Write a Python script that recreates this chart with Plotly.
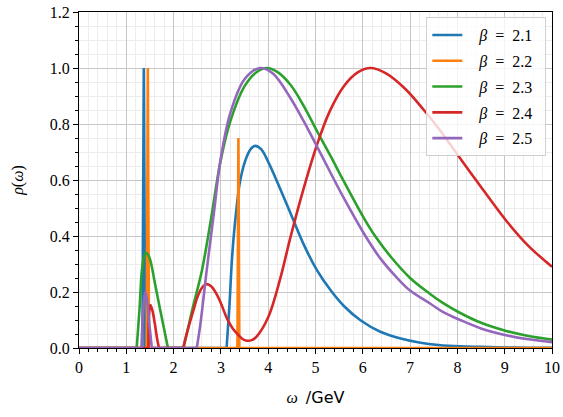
import plotly.graph_objects as go

# ---------------- data ----------------
betas = ["2.1", "2.2", "2.3", "2.4", "2.5"]
colors = ["#1f77b4", "#ff7f0e", "#2ca02c", "#d62728", "#9467bd"]

# beta = 2.1
b21_lin_x = [0.0, 1.34, 1.37, 1.40, 3.12]
b21_lin_y = [0.0, 0.0, 1.0, 0.0, 0.0]
b21_main_x = [3.12, 3.18, 3.235, 3.30, 3.41, 3.55, 3.66, 3.73, 3.85, 4.0, 4.25, 4.5,
              4.75, 5.03, 5.32, 5.6, 5.95, 6.37, 6.8, 7.22, 7.6, 8.06, 8.5, 9.0, 9.5, 10.0]
b21_main_y = [0.0, 0.15, 0.32, 0.45, 0.60, 0.685, 0.716, 0.722, 0.71, 0.665, 0.57, 0.47,
              0.37, 0.278, 0.206, 0.15, 0.099, 0.058, 0.034, 0.019, 0.011, 0.006, 0.004,
              0.002, 0.001, 0.0005]

# beta = 2.2
b22_lin_x = [0.0, 1.43, 1.455, 1.48, 3.35, 3.37, 3.39, 10.0]
b22_lin_y = [0.0, 0.0, 1.0, 0.0, 0.0, 0.75, 0.0, 0.0]

# beta = 2.3
b23_zero_x = [0.0, 1.22]
b23_bump_x = [1.22, 1.28, 1.33, 1.38, 1.415, 1.46, 1.507, 1.6, 1.7, 1.8, 1.88]
b23_bump_y = [0.0, 0.14, 0.278, 0.33, 0.34, 0.333, 0.314, 0.236, 0.15, 0.067, 0.0]
b23_gap_x = [1.88, 2.21]
b23_main_x = [2.21, 2.4, 2.6, 2.8, 2.99, 3.2, 3.5, 3.75, 3.97, 4.2, 4.47, 4.75, 5.03,
              5.32, 5.6, 6.02, 6.26, 6.6, 7.0, 7.43, 7.7, 8.06, 8.5, 9.05, 9.5, 10.0]
b23_main_y = [0.0, 0.14, 0.278, 0.47, 0.665, 0.81, 0.935, 0.985, 1.0, 0.985, 0.94, 0.865,
              0.775, 0.685, 0.595, 0.465, 0.40, 0.324, 0.25, 0.192, 0.16, 0.125, 0.09,
              0.06, 0.043, 0.030]

# beta = 2.4
b24_zero_x = [0.0, 1.47]
b24_bump_x = [1.47, 1.485, 1.51, 1.55, 1.60, 1.65, 1.69]
b24_bump_y = [0.0, 0.13, 0.153, 0.135, 0.09, 0.035, 0.0]
b24_gap_x = [1.69, 2.20]
b24_main_x = [2.20, 2.30, 2.42, 2.50, 2.60, 2.70, 2.80, 2.90, 3.0, 3.13, 3.25, 3.35,
              3.45, 3.55, 3.65, 3.75, 4.0, 4.25, 4.47, 4.75, 5.03, 5.3, 5.6, 5.9, 6.16,
              6.5, 6.9, 7.29, 7.6, 7.92, 8.5, 9.05, 9.5, 10.0]
b24_main_y = [0.0, 0.065, 0.135, 0.18, 0.215, 0.228, 0.22, 0.195, 0.16, 0.105, 0.07,
              0.05, 0.033, 0.026, 0.028, 0.04, 0.11, 0.245, 0.395, 0.57, 0.725, 0.845,
              0.935, 0.985, 1.0, 0.98, 0.925, 0.85, 0.785, 0.71, 0.575, 0.451, 0.365, 0.29]

# beta = 2.5
b25_zero_x = [0.0, 1.32]
b25_bump_x = [1.32, 1.36, 1.40, 1.44, 1.49, 1.54]
b25_bump_y = [0.0, 0.14, 0.20, 0.17, 0.08, 0.0]
b25_gap_x = [1.54, 2.49]
b25_main_x = [2.49, 2.57, 2.70, 2.85, 2.99, 3.2, 3.5, 3.83, 4.1, 4.47, 4.75, 5.03, 5.32,
              5.6, 6.02, 6.37, 6.7, 7.0, 7.43, 7.7, 8.06, 8.5, 9.05, 9.5, 10.0]
b25_main_y = [0.0, 0.09, 0.278, 0.48, 0.67, 0.84, 0.96, 1.0, 0.98, 0.893, 0.81, 0.72,
              0.625, 0.535, 0.41, 0.32, 0.255, 0.205, 0.158, 0.128, 0.1, 0.07, 0.045,
              0.031, 0.021]

x_ticks = list(range(0, 11))
y_ticks = [0.0, 0.2, 0.4, 0.6, 0.8, 1.0, 1.2]

series = [
    [(b21_lin_x, b21_lin_y, "linear"), (b21_main_x, b21_main_y, "spline")],
    [(b22_lin_x, b22_lin_y, "linear")],
    [(b23_zero_x, [0.0] * len(b23_zero_x), "linear"), (b23_bump_x, b23_bump_y, "spline"),
     (b23_gap_x, [0.0] * len(b23_gap_x), "linear"), (b23_main_x, b23_main_y, "spline")],
    [(b24_zero_x, [0.0] * len(b24_zero_x), "linear"), (b24_bump_x, b24_bump_y, "spline"),
     (b24_gap_x, [0.0] * len(b24_gap_x), "linear"), (b24_main_x, b24_main_y, "spline")],
    [(b25_zero_x, [0.0] * len(b25_zero_x), "linear"), (b25_bump_x, b25_bump_y, "spline"),
     (b25_gap_x, [0.0] * len(b25_gap_x), "linear"), (b25_main_x, b25_main_y, "spline")],
]

SERIF = "Liberation Serif, DejaVu Serif, serif"
NB = "\u00a0"

fig = go.Figure()
for beta, color, segs in zip(betas, colors, series):
    name = NB * 3 + "<i>β</i>" + NB * 2 + "=" + NB * 2 + beta + NB * 2
    for i, (xs, ys, shape) in enumerate(segs):
        fig.add_trace(go.Scatter(
            x=xs, y=ys, mode="lines", name=name, legendgroup=beta,
            showlegend=(i == 0),
            line=dict(color=color, width=2.6, shape=shape, smoothing=1.0),
            hoverinfo="skip"))

axis_common = dict(
    showline=True, linecolor="black", linewidth=1.2, mirror=True,
    ticks="outside", ticklen=5, tickwidth=1, tickcolor="black",
    showgrid=True, gridcolor="#c6c6c6", gridwidth=1, zeroline=False,
    automargin=False,
    tickfont=dict(family=SERIF, size=16, color="black"),
)

fig.update_layout(
    width=563, height=417,
    margin=dict(l=79, r=11, t=12, b=69),
    paper_bgcolor="white", plot_bgcolor="white",
    font=dict(family=SERIF),
    showlegend=True,
    legend=dict(
        x=0.988, y=0.985, xanchor="right", yanchor="top",
        bgcolor="rgba(255,255,255,0.8)", bordercolor="#d0d0d0", borderwidth=1,
        font=dict(family=SERIF, size=16, color="black"),
        tracegroupgap=2, itemwidth=30,
    ),
    xaxis=dict(
        range=[0, 10], tickvals=x_ticks, ticktext=[str(v) for v in x_ticks],
        minor=dict(dtick=0.2, ticks="outside", ticklen=3, tickcolor="black",
                   showgrid=True, gridcolor="#ececec", gridwidth=0.8),
        title=dict(text="<i>ω</i>" + NB + NB + "<span style=\"font-family:'DejaVu Sans'\">/GeV</span>",
                   font=dict(family=SERIF, size=16, color="black"), standoff=16),
        **axis_common,
    ),
    yaxis=dict(
        range=[0, 1.2], tickvals=y_ticks, ticktext=[f"{v:.1f}" for v in y_ticks],
        minor=dict(dtick=0.05, ticks="outside", ticklen=3, tickcolor="black",
                   showgrid=True, gridcolor="#ececec", gridwidth=0.8),
        title=dict(text="<i>ρ</i>(<i>ω</i>)",
                   font=dict(family=SERIF, size=16, color="black"), standoff=22),
        **axis_common,
    ),
)

fig.write_html("out.html", config={"displayModeBar": False},
               post_script="document.body.style.margin='0px';document.body.style.overflow='hidden';")
